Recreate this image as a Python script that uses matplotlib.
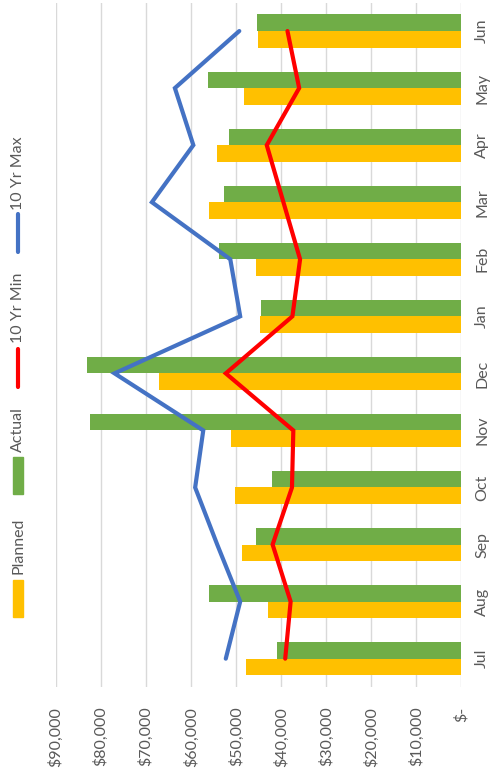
import numpy as np
import matplotlib.pyplot as plt
from matplotlib.patches import Rectangle
from matplotlib.lines import Line2D

months = ["Jul", "Aug", "Sep", "Oct", "Nov", "Dec", "Jan", "Feb", "Mar", "Apr", "May", "Jun"]
planned = [47800, 42900, 48700, 50200, 51200, 67100, 44600, 45600, 56100, 54300, 48200, 45200]
actual = [41000, 56100, 45600, 42000, 82400, 83200, 44500, 53700, 52600, 51500, 56200, 45400]
max10 = [52300, 49100, 54200, 59100, 57300, 77000, 49100, 51300, 68700, 59500, 63600, 49300]
min10 = [39100, 37900, 41900, 37600, 37300, 52300, 37500, 35800, 39500, 43200, 36000, 38600]
value_ticks = [0, 10000, 20000, 30000, 40000, 50000, 60000, 70000, 80000, 90000]

c_plan = "#FFC000"
c_act = "#70AD47"
c_max = "#4472C4"
c_min = "#FF0000"
txt = "#595959"
fs = 11.5

plt.rcParams['font.family'] = ['Lato', 'DejaVu Sans']

W, H = 493, 772
fig = plt.figure(figsize=(W / 100, H / 100), dpi=100)


def fx(px):
    return px / W


def fy(py):
    return 1 - py / H


ax = fig.add_axes([fx(56), fy(687.2), fx(461.3) - fx(56), fy(2.5) - fy(687.2)])

y = np.arange(len(months))
h = 0.29
ax.barh(y - h / 2, planned, height=h, color=c_plan, zorder=2)
ax.barh(y + h / 2, actual, height=h, color=c_act, zorder=2)
ax.plot(max10, y, color=c_max, lw=3, solid_capstyle='round', solid_joinstyle='miter', zorder=3)
ax.plot(min10, y, color=c_min, lw=3, solid_capstyle='round', solid_joinstyle='miter', zorder=4)

ax.set_xlim(90000, 0)
ax.set_ylim(-0.5, len(months) - 0.5)
ax.set_xticks(value_ticks)
ax.set_xticklabels(["$-" if v == 0 else "${:,}".format(v) for v in value_ticks],
                   rotation=90, va='top', ha='center', color=txt, fontsize=fs)
ax.set_yticks(y)
ax.set_yticklabels(months, rotation=90, va='center', ha='left', color=txt, fontsize=fs)
ax.yaxis.tick_right()
ax.tick_params(axis='x', length=0, pad=14)
ax.tick_params(axis='y', length=0, pad=10)
ax.grid(axis='x', color='#D9D9D9', lw=1, zorder=0)
for s in ax.spines.values():
    s.set_visible(False)

# legend, drawn by hand so it reads rotated like the rest
lx = 18
fig.add_artist(Rectangle((fx(lx - 5), fy(617)), fx(10), fy(580) - fy(617),
                         color=c_plan, transform=fig.transFigure))
fig.text(fx(lx), fy(574), "Planned", rotation=90, ha='center', va='bottom', color=txt, fontsize=fs)
fig.add_artist(Rectangle((fx(lx - 5), fy(494)), fx(10), fy(457) - fy(494),
                         color=c_act, transform=fig.transFigure))
fig.text(fx(lx), fy(452), "Actual", rotation=90, ha='center', va='bottom', color=txt, fontsize=fs)
fig.add_artist(Line2D([fx(lx), fx(lx)], [fy(387), fy(349)], color=c_min, lw=3,
                      solid_capstyle='round', transform=fig.transFigure))
fig.text(fx(lx), fy(343), "10 Yr Min", rotation=90, ha='center', va='bottom', color=txt, fontsize=fs)
fig.add_artist(Line2D([fx(lx), fx(lx)], [fy(252), fy(214)], color=c_max, lw=3,
                      solid_capstyle='round', transform=fig.transFigure))
fig.text(fx(lx), fy(210), "10 Yr Max", rotation=90, ha='center', va='bottom', color=txt, fontsize=fs)

fig.savefig("out.png", dpi=100)
